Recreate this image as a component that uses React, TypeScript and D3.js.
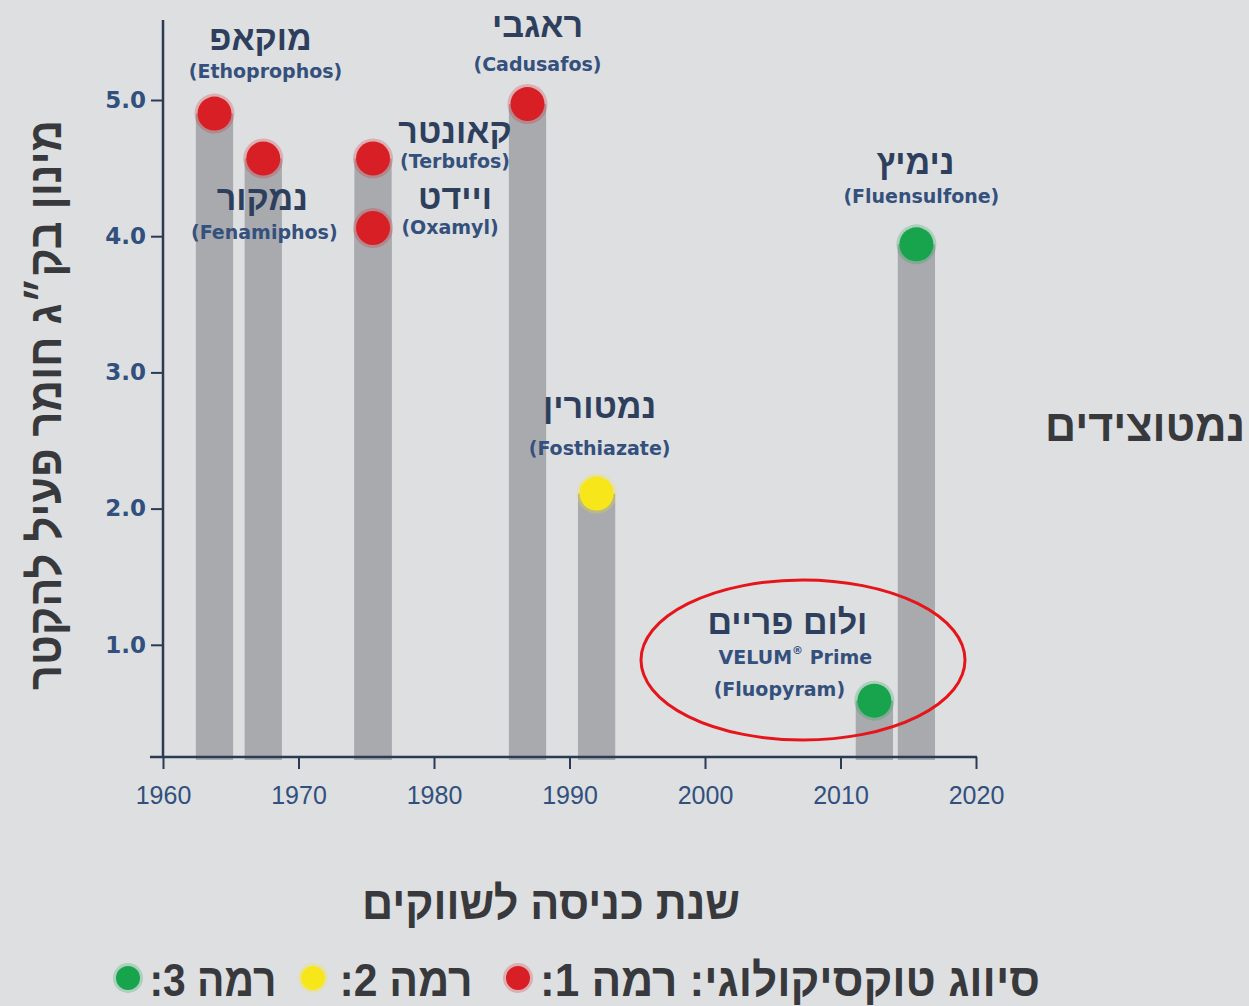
import * as d3 from "d3";
import { useEffect, useRef } from "react";

// product data
const hebrewNames = ["מוקאפ", "נמקור", "קאונטר", "ויידט", "ראגבי", "נמטורין", "ולום פריים", "נימיץ"];
const activeIngredients = ["Ethoprophos", "Fenamiphos", "Terbufos", "Oxamyl", "Cadusafos", "Fosthiazate", "Fluopyram", "Fluensulfone"];
const launchYears = [1963.8, 1967.4, 1975.5, 1975.5, 1986.9, 1992.0, 2012.5, 2015.6];
const doses = [4.9, 4.57, 4.57, 4.06, 4.97, 2.11, 0.59, 3.94];
const toxLevels = [1, 1, 1, 1, 1, 2, 3, 3];

const xTicks = [1960, 1970, 1980, 1990, 2000, 2010, 2020];
const yTicks = [1, 2, 3, 4, 5];
const legendLevels = [1, 2, 3];
const legendText = ["סיווג טוקסיקולוגי: רמה 1:", "רמה 2:", "רמה 3:"];

const W = 1249;
const H = 1006;
const HEB = "'Liberation Sans', 'DejaVu Sans', sans-serif";
const LAT = "'Liberation Sans', Arial, sans-serif";
const WIDE = "'DejaVu Sans', Verdana, sans-serif";

const toxColor: Record<number, string> = { 1: "#d91f26", 2: "#f6e61a", 3: "#17a44c" };

// label offsets from each dot (px): hebrew line, latin line
const labelOffsets = [
	{ h: [46, -76], e: [51, -43] },
	{ h: [-1, 39], e: [1, 73] },
	{ h: [82, -28], e: [82, 2] },
	{ h: [82, -31], e: [77, -1] },
	{ h: [10, -79], e: [10, -40] },
	{ h: [3, -88], e: [3, -46] },
	{ h: [-87, -79], e: [-95, -12] },
	{ h: [-1, -82], e: [5, -48] },
];

const App = () => {
	const ref = useRef<SVGSVGElement>(null);

	useEffect(() => {
		const svg = d3.select(ref.current);
		svg.selectAll("*").remove();

		const x = d3.scaleLinear().domain([1960, 2020]).range([163, 976]);
		const y = d3.scaleLinear().domain([0, 5]).range([781, 100]);
		const baseY = 757;
		const axisColor = "#2b3a55";
		const tickColor = "#31507d";
		const titleColor = "#38393c";

		svg.append("rect").attr("width", W).attr("height", H).attr("fill", "#dedfe1");

		// bars
		const barW = x(1962.75) - x(1960);
		svg.append("g")
			.selectAll("rect")
			.data(launchYears.map((yr, i) => ({ yr, v: doses[i] })))
			.enter()
			.append("rect")
			.attr("x", d => x(d.yr) - barW / 2)
			.attr("y", d => y(d.v))
			.attr("width", barW)
			.attr("height", d => baseY + 3 - y(d.v))
			.attr("fill", "#a9aaae");

		// axes
		const xAxis = svg.append("g").attr("transform", `translate(0, ${baseY})`)
			.call(d3.axisBottom(x).tickValues(xTicks).tickFormat(d3.format("d")).tickSize(12).tickSizeOuter(0));
		xAxis.select(".domain").remove();
		xAxis.selectAll("line").attr("stroke", axisColor).attr("stroke-width", 2);
		xAxis.selectAll("text")
			.attr("y", 32)
			.attr("font-family", LAT)
			.attr("font-size", 25)
			.attr("fill", tickColor)
			.attr("dy", "0.6em");

		svg.append("line")
			.attr("x1", 150).attr("x2", 977)
			.attr("y1", baseY).attr("y2", baseY)
			.attr("stroke", axisColor).attr("stroke-width", 2.5);

		const yAxis = svg.append("g").attr("transform", `translate(${x(1960)}, 0)`)
			.call(d3.axisLeft(y).tickValues(yTicks).tickFormat(d3.format(".1f")).tickSize(12).tickSizeOuter(0));
		yAxis.select(".domain").remove();
		yAxis.selectAll("line").attr("stroke", axisColor).attr("stroke-width", 2);
		yAxis.selectAll("text")
			.attr("x", -17)
			.attr("font-family", WIDE)
			.attr("font-weight", "bold")
			.attr("font-size", 23)
			.attr("fill", tickColor);

		svg.append("line")
			.attr("x1", x(1960)).attr("x2", x(1960))
			.attr("y1", 20).attr("y2", baseY)
			.attr("stroke", axisColor).attr("stroke-width", 2.5);

		// dots
		const dots = svg.append("g");
		launchYears.forEach((yr, i) => {
			const cx = x(yr), cy = y(doses[i]);
			dots.append("circle").attr("cx", cx).attr("cy", cy).attr("r", 20)
				.attr("fill", toxColor[toxLevels[i]]).attr("opacity", 0.25);
			dots.append("circle").attr("cx", cx).attr("cy", cy).attr("r", 17)
				.attr("fill", toxColor[toxLevels[i]]);
		});

		// labels
		const labels = svg.append("g").attr("text-anchor", "middle").attr("dominant-baseline", "central");
		launchYears.forEach((yr, i) => {
			const cx = x(yr), cy = y(doses[i]);
			const o = labelOffsets[i];
			labels.append("text")
				.attr("x", cx + o.h[0]).attr("y", cy + o.h[1])
				.attr("font-family", HEB).attr("font-weight", "bold").attr("font-size", 34)
				.attr("fill", "#2e3f5e").attr("direction", "rtl")
				.text(hebrewNames[i]);
			labels.append("text")
				.attr("x", cx + o.e[0]).attr("y", cy + o.e[1])
				.attr("font-family", WIDE).attr("font-weight", "bold").attr("font-size", 19)
				.attr("fill", "#34507c")
				.text(`(${activeIngredients[i]})`);
		});

		// VELUM Prime line
		const iv = activeIngredients.indexOf("Fluopyram");
		const vt = labels.append("text")
			.attr("x", x(launchYears[iv]) - 79).attr("y", y(doses[iv]) - 44)
			.attr("font-family", WIDE).attr("font-weight", "bold").attr("font-size", 19)
			.attr("fill", "#34507c");
		vt.append("tspan").text("VELUM");
		vt.append("tspan").attr("font-size", 11).attr("dy", -7).text("®");
		vt.append("tspan").attr("dy", 7).text(" Prime");

		// highlight ellipse
		svg.append("ellipse")
			.attr("cx", 803).attr("cy", 660).attr("rx", 162).attr("ry", 80)
			.attr("fill", "none").attr("stroke", "#e5161b").attr("stroke-width", 3);

		// titles
		svg.append("text")
			.attr("x", 1145).attr("y", 425)
			.attr("text-anchor", "middle").attr("dominant-baseline", "central")
			.attr("font-family", HEB).attr("font-weight", "bold").attr("font-size", 44)
			.attr("textLength", 200).attr("lengthAdjust", "spacingAndGlyphs")
			.attr("fill", titleColor).attr("direction", "rtl")
			.text("נמטוצידים");

		svg.append("text")
			.attr("x", 551).attr("y", 903)
			.attr("text-anchor", "middle").attr("dominant-baseline", "central")
			.attr("font-family", HEB).attr("font-weight", "bold").attr("font-size", 46)
			.attr("textLength", 378).attr("lengthAdjust", "spacingAndGlyphs")
			.attr("fill", titleColor).attr("direction", "rtl")
			.text("שנת כניסה לשווקים");

		svg.append("text")
			.attr("transform", "translate(45, 405) rotate(-90)")
			.attr("text-anchor", "middle").attr("dominant-baseline", "central")
			.attr("font-family", HEB).attr("font-weight", "bold").attr("font-size", 46)
			.attr("textLength", 570).attr("lengthAdjust", "spacingAndGlyphs")
			.attr("fill", titleColor).attr("direction", "rtl")
			.text("מינון בק״ג חומר פעיל להקטר");

		// legend
		const legendTextX = [790, 406, 213];
		const legendTextLen = [500, 133, 127];
		const legendDotX = [518, 313, 128];
		const lg = svg.append("g");
		legendLevels.forEach((lv, i) => {
			lg.append("text")
				.attr("x", legendTextX[i]).attr("y", 980)
				.attr("text-anchor", "middle").attr("dominant-baseline", "central")
				.attr("font-family", HEB).attr("font-weight", "bold").attr("font-size", 46)
				.attr("textLength", legendTextLen[i]).attr("lengthAdjust", "spacingAndGlyphs")
				.attr("fill", titleColor).attr("direction", "rtl")
				.text(legendText[i]);
			lg.append("circle").attr("cx", legendDotX[i]).attr("cy", 978).attr("r", 15)
				.attr("fill", toxColor[lv]).attr("opacity", 0.25);
			lg.append("circle").attr("cx", legendDotX[i]).attr("cy", 978).attr("r", 12)
				.attr("fill", toxColor[lv]);
		});
	}, []);

	return (
		<svg ref={ref} width={W} height={H} style={{ position: "absolute", left: 0, top: 0 }}></svg>
	);
};

export default App;
